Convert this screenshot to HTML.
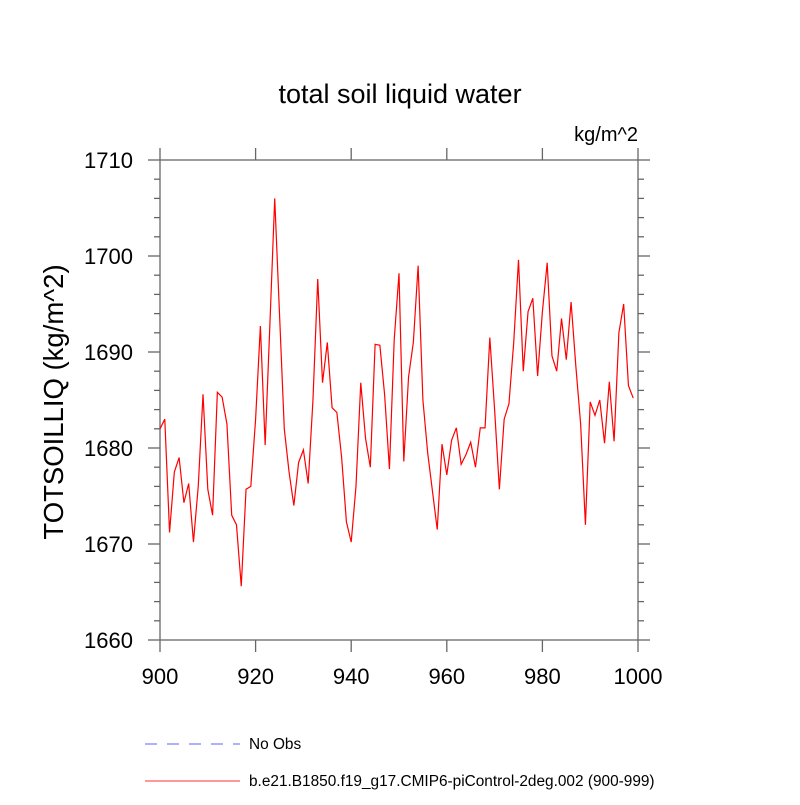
<!DOCTYPE html>
<html><head><meta charset="utf-8"><style>body{margin:0;background:#fff}svg text{font-family:"Liberation Sans",sans-serif}</style></head>
<body>
<svg id="c" width="800" height="800" xmlns="http://www.w3.org/2000/svg">
<text x="400" y="103" font-size="27" text-anchor="middle">total soil liquid water</text>
<text x="638" y="141" font-size="20" text-anchor="end">kg/m^2</text>
<text transform="translate(63,402) rotate(-90)" font-size="27.5" text-anchor="middle">TOTSOILLIQ  (kg/m^2)</text>
<g id="axes"></g>
<polyline id="line" fill="none" stroke="#ff0000" stroke-width="1.2"/>
<line x1="145" y1="744" x2="240" y2="744" stroke="#6060ff" stroke-width="1" stroke-dasharray="12,10"/>
<text x="249" y="749" font-size="15.4">No Obs</text>
<line x1="145" y1="781" x2="240" y2="781" stroke="#ff3030" stroke-width="1"/>
<text x="249" y="786" font-size="15.4">b.e21.B1850.f19_g17.CMIP6-piControl-2deg.002 (900-999)</text>
</svg>
<script>
const years=[];for(let i=900;i<1000;i++)years.push(i);
const values=[1682,1683,1671.2,1677.5,1679,1674.3,1676.3,1670.2,1676,1685.6,1675.7,1673,1685.8,1685.3,1682.5,1673,1672,1665.6,1675.7,1676,1683,1692.7,1680.3,1693,1706,1694,1682,1677.5,1674,1678.5,1679.8,1676.3,1685,1697.6,1686.8,1691,1684.2,1683.7,1679,1672.3,1670.2,1676,1686.8,1681,1678,1690.8,1690.7,1685.5,1677.8,1691.3,1698.2,1678.6,1687.4,1691,1699,1685,1679.5,1675.5,1671.5,1680.4,1677.2,1680.8,1682.1,1678.3,1679.3,1680.6,1678,1682.1,1682.1,1691.5,1684,1675.7,1683,1684.6,1691,1699.6,1688,1694.2,1695.6,1687.5,1694.2,1699.3,1689.6,1688,1693.5,1689.2,1695.2,1688.5,1682.5,1672,1684.8,1683.4,1685,1680.5,1686.9,1680.7,1692,1695,1686.5,1685.2];
const xTicks=[900,920,940,960,980,1000];
const yTicks=[1660,1670,1680,1690,1700,1710];
const X0=160,X1=638,Y0=640,Y1=160;
const sx=v=>X0+(v-900)/100*(X1-X0);
const sy=v=>Y0-(v-1660)/50*(Y0-Y1);
const NS="http://www.w3.org/2000/svg";
const ax=document.getElementById('axes');
function ln(x1,y1,x2,y2,name){const l=document.createElementNS(NS,'line');l.setAttribute('x1',x1);l.setAttribute('y1',y1);l.setAttribute('x2',x2);l.setAttribute('y2',y2);l.setAttribute('stroke','#666');l.setAttribute('stroke-width','1.3');


ax.appendChild(l);}
function tx(x,y,s,anchor,name){const t=document.createElementNS(NS,'text');t.setAttribute('x',x);t.setAttribute('y',y);t.setAttribute('font-size','22');t.setAttribute('text-anchor',anchor);t.textContent=s;


ax.appendChild(t);}
const r=document.createElementNS(NS,'rect');r.setAttribute('x',X0);r.setAttribute('y',Y1);r.setAttribute('width',X1-X0);r.setAttribute('height',Y0-Y1);r.setAttribute('fill','none');r.setAttribute('stroke','#666');r.setAttribute('stroke-width','1.3');


ax.appendChild(r);
xTicks.forEach(v=>{const x=sx(v);ln(x,Y0,x,Y0+12,'x-tick');ln(x,Y1,x,Y1-12,'x-tick-top');tx(x,Y0+44,v,'middle','x-tick-label');});
for(let v=1660;v<=1710;v+=2){const y=sy(v);const L=(v%10===0)?12:6;ln(X0-L,y,X0,y,'y-tick');ln(X1,y,X1+L,y,'y-tick-right');}
yTicks.forEach(v=>tx(X0-27,sy(v)+8,v,'end','y-tick-label'));
document.getElementById('line').setAttribute('points',values.map((v,i)=>sx(years[i])+','+sy(v)).join(' '));
</script>
</body></html>
